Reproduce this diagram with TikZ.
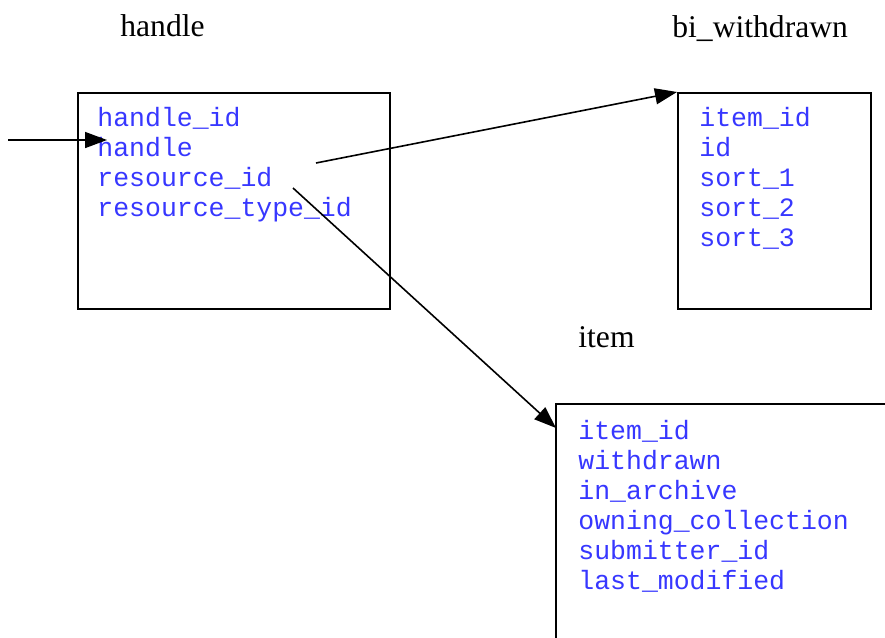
\documentclass[tikz,border=0pt]{standalone}
\usepackage{fontspec}
\setmainfont{Liberation Serif}
\newfontfamily\fieldfont{Liberation Mono}
\usetikzlibrary{arrows.meta}
\definecolor{fieldblue}{RGB}{55,55,255}

\tikzset{
	tablebox/.style={draw=black, line width=1.2pt, inner sep=0pt, anchor=north west},
	fieldlist/.style={font=\fieldfont\fontsize{13.25}{15}\selectfont, text=fieldblue, align=left, anchor=north west, inner sep=0pt},
	tabletitle/.style={font=\fontsize{15.8}{18}\selectfont, anchor=base west, inner sep=0pt},
	link/.style={line width=0.8pt, -{Triangle[length=11pt, width=8pt]}}
}

\begin{document}
\begin{tikzpicture}[x=0.5pt, y=-0.5pt]
			\clip (0,0) rectangle (885,638);
			\fill[white] (0,0) rectangle (885,638);
			
			% table names
			\node[tabletitle] (handleTitle) at (120,36) {handle};
			\node[tabletitle] (biTitle) at (672,37) {bi\_withdrawn};
			\node[tabletitle] (itemTitle) at (578,347) {item};
			
			% tables
			\node[tablebox, minimum width=156pt, minimum height=108pt] (handle) at (77,92) {};
			\node[tablebox, minimum width=96.5pt, minimum height=108pt] (bi) at (677,92) {};
			\draw[line width=1.2pt] (900,404) -| (556,660);
			\coordinate (item) at (556,428);
			
			% fields
			\node[fieldlist] (handleFields) at (97,107) {handle\_id\\handle\\resource\_id\\resource\_type\_id};
			\node[fieldlist] (biFields) at (699,107) {item\_id\\id\\sort\_1\\sort\_2\\sort\_3};
			\node[fieldlist] (itemFields) at (578,420) {item\_id\\withdrawn\\in\_archive\\owning\_collection\\submitter\_id\\last\_modified};
			
			% links
			\coordinate (inStart) at (8,140);
			\coordinate (inEnd) at (107,140);
			\coordinate (biStart) at (316,163);
			\coordinate (itemStart) at (293,188);
			\draw[link] (inStart) -- (inEnd);
			\draw[link] (biStart) -- (bi.north west);
			\draw[link] (itemStart) -- (item);
		\end{tikzpicture}
\end{document}
